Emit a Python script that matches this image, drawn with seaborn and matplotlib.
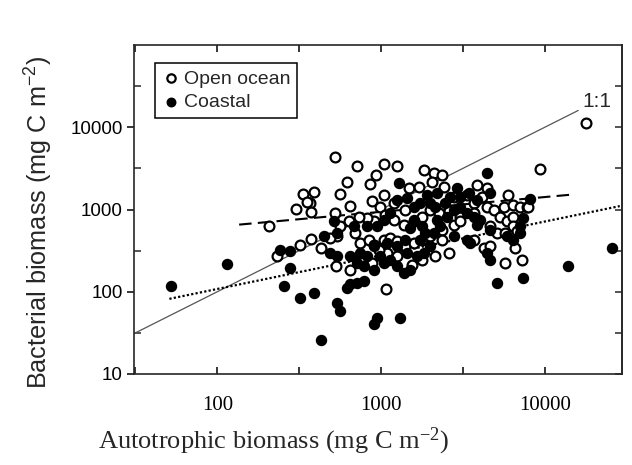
import matplotlib
matplotlib.use("Agg")
import matplotlib.pyplot as plt
import seaborn as sns
import pandas as pd
from matplotlib.ticker import FixedLocator, LogLocator, NullFormatter

# ---------------- data ----------------
open_x = [521, 714, 1038, 1253, 1837, 2094, 2355, 937, 861, 621,
          2046, 3846, 4426, 5998, 9376, 17780, 334, 388, 367, 301,
          371, 565, 650, 525, 1038, 881, 991, 1194, 1406, 1476,
          1698, 2410, 2773, 3342, 3673, 4130, 4426, 4864, 5598, 6442,
          7079, 7762, 5346, 5861, 6442, 4645, 5093, 5728, 6442, 6745,
          3673, 3048, 2588, 2249, 2000, 1778, 1581, 1374, 1194, 1062,
          902, 822, 731, 635, 565, 539, 427, 371, 322, 232,
          207, 697, 748, 841, 902, 1038, 1140, 1253, 1406, 1581,
          1778, 2000, 2355, 2773, 3048, 2355, 2588, 2143, 1778, 1545,
          1253, 1088, 968, 881, 748, 644, 534, 1072, 3673, 4227,
          4645, 5728, 6592, 7244, 7943, 354, 491]
open_y = [4295, 3373, 3565, 3404, 3020, 2754, 2624, 2651, 2042, 2182,
          2182, 1986, 1811, 1504, 3076, 11270, 1532, 1652, 1195, 1018,
          920, 1549, 1117, 903, 1504, 1285, 1086, 1195, 991, 1811,
          1897, 1897, 1436, 1504, 1195, 1436, 1086, 991, 1086, 1139,
          1086, 1086, 822, 716, 822, 622, 518, 518, 622, 542,
          903, 822, 946, 903, 991, 822, 716, 653, 750, 862,
          716, 785, 822, 716, 622, 471, 341, 438, 374, 270,
          634, 518, 392, 430, 374, 430, 450, 410, 357, 392,
          430, 471, 568, 653, 716, 430, 296, 270, 246, 214,
          270, 296, 325, 224, 246, 186, 204, 107, 430, 341,
          357, 224, 341, 246, 1086, 1250, 450]

coastal_x = [4426, 1282, 2904, 3428, 4645, 8147, 2649, 2193, 1905, 1738,
             1581, 1442, 1253, 1140, 1038, 946, 822, 681, 514, 539,
             447, 491, 539, 650, 748, 822, 714, 783, 902, 1038,
             1140, 1253, 1374, 1510, 1660, 1820, 2000, 2094, 2301, 2523,
             3048, 3342, 3673, 4036, 3846, 3342, 3508, 4426, 4645, 4645,
             5861, 6442, 7079, 7079, 7413, 5093, 7413, 13930, 25650, 650,
             714, 783, 621, 539, 565, 946, 902, 1312, 427, 388,
             322, 255, 277, 243, 280, 115, 52, 1510, 1406, 1738,
             1253, 1088, 902, 991, 1442, 1862, 2143, 2466, 2773, 2193,
             2000, 1581, 1778, 2773, 3048, 3846]
coastal_y = [2805, 2084, 1811, 1578, 1578, 1334, 1436, 1578, 1504, 1195,
             1086, 1371, 1309, 903, 750, 622, 622, 622, 716, 518,
             471, 296, 270, 270, 296, 270, 224, 204, 186, 224,
             246, 204, 170, 186, 270, 296, 357, 518, 622, 822,
             1086, 903, 822, 750, 653, 430, 392, 296, 246, 568,
             471, 430, 518, 622, 785, 128, 148, 208, 341, 123,
             128, 135, 112, 74, 58, 48, 40, 48, 26, 97,
             85, 117, 195, 325, 310, 220, 117, 594, 430, 430,
             357, 392, 357, 270, 296, 518, 1086, 1195, 991, 750,
             1195, 750, 622, 471, 1436, 1309]

one_to_one_x = [31, 16000]
one_to_one_y = [31, 16000]
open_fit_x = [136, 14600]
open_fit_y = [655, 1517]
coastal_fit_x = [51, 28700]
coastal_fit_y = [82, 1100]

x_ticks = [100, 1000, 10000]
y_ticks = [10, 100, 1000, 10000]
series_labels = ["Open ocean", "Coastal"]

# ---------------- styling ----------------
sns.set_style("ticks")
plt.rcParams["font.family"] = ["Liberation Sans", "DejaVu Sans"]
plt.rcParams["axes.linewidth"] = 1.2

fig = plt.figure(figsize=(6.32, 4.65), dpi=100)
ax = fig.add_axes([0.212, 0.1957, 0.7717, 0.7075])

# lines
ax.plot(one_to_one_x, one_to_one_y, color="#555555", lw=0.9, zorder=1)
ax.plot(open_fit_x, open_fit_y, color="black", lw=1.5, dashes=(6, 3), zorder=1)
ax.plot(coastal_fit_x, coastal_fit_y, color="black", lw=1.6, dashes=(1, 1), zorder=1)

df_open = pd.DataFrame({"x": open_x, "y": open_y})
df_coast = pd.DataFrame({"x": coastal_x, "y": coastal_y})

sns.scatterplot(data=df_open, x="x", y="y", ax=ax, marker="o", s=50,
                facecolor="white", edgecolor="black", linewidth=1.6,
                label=series_labels[0], zorder=3)
sns.scatterplot(data=df_coast, x="x", y="y", ax=ax, marker="o", s=52,
                color="black", edgecolor="black", linewidth=1.0,
                label=series_labels[1], zorder=4)

ax.set_xscale("log")
ax.set_yscale("log")
ax.set_xlim(31, 29500)
ax.set_ylim(10, 100000)

# ticks
ax.xaxis.set_major_locator(FixedLocator(x_ticks))
ax.xaxis.set_minor_locator(LogLocator(base=10, subs=(10 ** 0.5,), numticks=12))
ax.xaxis.set_minor_formatter(NullFormatter())
ax.set_xticks(x_ticks, labels=[str(v) for v in x_ticks])
ax.yaxis.set_major_locator(FixedLocator(y_ticks))
ax.yaxis.set_minor_locator(LogLocator(base=10, subs=(10 ** 0.5,), numticks=12))
ax.yaxis.set_minor_formatter(NullFormatter())
ax.set_yticks(y_ticks, labels=[str(v) for v in y_ticks])

ax.tick_params(axis="x", which="both", direction="in", top=True, bottom=True,
               length=5, width=1.1, pad=16, colors="black")
ax.tick_params(axis="y", which="major", direction="out", left=True, right=False,
               length=5, width=1.1, pad=3, colors="black")
ax.tick_params(axis="y", which="minor", direction="in", left=True, right=False,
               length=5, width=1.1)
for lab in ax.get_xticklabels():
    lab.set_fontfamily("Liberation Serif")
    lab.set_fontsize(15)
for lab in ax.get_yticklabels():
    lab.set_fontsize(13.5)

sec = ax.secondary_yaxis("right")
sec.yaxis.set_major_locator(FixedLocator(y_ticks))
sec.yaxis.set_minor_locator(LogLocator(base=10, subs=(10 ** 0.5,), numticks=12))
sec.yaxis.set_major_formatter(NullFormatter())
sec.yaxis.set_minor_formatter(NullFormatter())
sec.tick_params(which="both", direction="in", length=5, width=1.1)
sec.spines["right"].set_linewidth(1.2)

# labels
ax.set_xlabel(r"Autotrophic biomass (mg C m$\mathregular{^{-2}}$)",
              fontfamily="Liberation Serif", fontsize=19, va="center")
ax.xaxis.set_label_coords(0.287, -0.205)
ax.set_ylabel(r"Bacterial biomass (mg C m$\mathregular{^{-2}}$)",
              fontsize=18.2, va="center")
ax.yaxis.set_label_coords(-0.195, 0.462)

ax.text(20800, 20400, "1:1", fontsize=15, ha="center", va="center")

leg = ax.legend(loc="upper left", bbox_to_anchor=(0.043, 0.945), borderaxespad=0,
                frameon=True, fancybox=False, edgecolor="black", framealpha=1,
                fontsize=14, handletextpad=0.15, borderpad=0.35, labelspacing=0.3,
                handlelength=1.0, markerscale=0.85)
leg.get_frame().set_linewidth(1.1)

fig.savefig("out.png", dpi=100)
